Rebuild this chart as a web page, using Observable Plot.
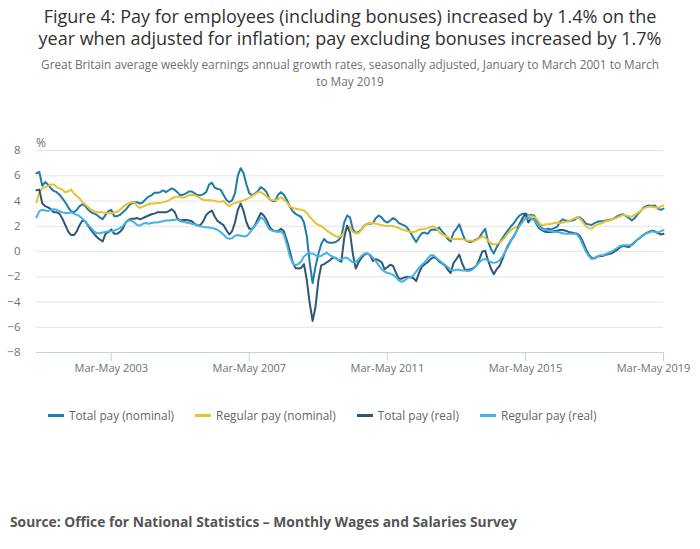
<!DOCTYPE html>
<html>
<head>
<meta charset="utf-8">
<script src="https://cdn.jsdelivr.net/npm/d3@7"></script>
<script src="https://cdn.jsdelivr.net/npm/@observablehq/plot@0.6"></script>
<style>
  html, body { margin: 0; padding: 0; background: #fff; }
  #wrap { position: relative; width: 700px; height: 549px; font-family: "Open Sans", sans-serif; overflow: hidden; }
  #title { position: absolute; top: 5px; left: 0; width: 700px; text-align: center; font-size: 18px; line-height: 22px; color: #323132; }
  .sub { position: absolute; left: 0; width: 700px; height: 16px; text-align: center; font-size: 11.8px; line-height: 16px; color: #707070; white-space: nowrap; }
  #unit { position: absolute; top: 134px; left: 36px; font-size: 12px; color: #707070; }
  #chart { position: absolute; top: 130px; left: 0; }
  #legend { position: absolute; top: 407px; left: 48px; display: flex; font-size: 11.8px; color: #666; }
  .item { display: flex; align-items: center; margin-right: 21px; }
  .sw { width: 16px; height: 3px; margin-right: 5px; }
  #source { position: absolute; top: 512px; left: 10px; font-size: 13.8px; font-weight: bold; color: #555; }
</style>
</head>
<body>
<div id="wrap">
  <div id="title"></div>
  <div id="subtitle"></div>
  <div id="unit">%</div>
  <div id="chart"></div>
  <div id="legend"></div>
  <div id="source"></div>
</div>
<script>
const titleLines = ["Figure 4: Pay for employees (including bonuses) increased by 1.4% on the",
  "year when adjusted for inflation; pay excluding bonuses increased by 1.7%"];
const subtitleLines = ["Great Britain average weekly earnings annual growth rates, seasonally adjusted, January to March 2001 to March",
  "to May 2019"];
const sourceText = "Source: Office for National Statistics \u2013 Monthly Wages and Salaries Survey";

const monthAbbr = ["Jan","Feb","Mar","Apr","May","Jun","Jul","Aug","Sep","Oct","Nov","Dec"];
const firstYear = 2001;
const seriesNames = ["Total pay (nominal)", "Regular pay (nominal)", "Total pay (real)", "Regular pay (real)"];
const seriesColors = ["#1d7cab", "#e8c22c", "#2f5878", "#43b3e1"];
const xTickLabels = ["Mar-May 2003", "Mar-May 2007", "Mar-May 2011", "Mar-May 2015", "Mar-May 2019"];
const yTicks = [-8, -6, -4, -2, 0, 2, 4, 6, 8];

const totalNominal = [
 6.2, 6.3, 5.2, 5.5, 5.3, 5.0, 4.8, 4.7, 4.5, 4.2,
 3.9, 3.5, 3.2, 3.1, 3.3, 3.6, 3.75, 3.6, 3.3, 3.1,
 3.0, 2.9, 2.7, 2.55, 2.9, 3.2, 3.3, 2.8, 2.8, 2.9,
 3.1, 3.3, 3.6, 3.8, 3.9, 3.9, 3.8, 3.9, 4.15, 4.35,
 4.45, 4.65, 4.65, 4.7, 4.85, 4.7, 4.85, 5.0, 4.9, 4.7,
 4.45, 4.5, 4.6, 4.75, 4.75, 4.6, 4.45, 4.45, 4.55, 4.7,
 5.3, 5.45, 5.05, 4.95, 4.9, 4.5, 4.1, 3.9, 4.05, 4.6,
 6.0, 6.6, 6.2, 5.3, 4.6, 4.45, 4.6, 4.8, 5.1, 4.95,
 4.7, 4.15, 4.0, 4.0, 4.5, 4.7, 4.5, 4.1, 3.6, 3.2,
 3.0, 2.85, 2.75, 2.3, 1.2, -0.9, -2.5, -1.2, -0.2, 0.6,
 1.0, 0.75, 0.7, 0.7, 0.75, 0.9, 1.2, 2.3, 2.85, 2.7,
 1.75, 1.45, 1.55, 1.75, 2.05, 2.2, 2.2, 2.25, 2.65, 2.85,
 2.7, 2.4, 2.3, 2.45, 2.65, 2.5, 2.25, 2.15, 2.05, 1.85,
 1.5, 1.1, 0.75, 1.15, 1.45, 1.5, 1.4, 1.7, 1.75, 1.7,
 1.9, 1.6, 1.35, 1.0, 0.8, 1.5, 1.8, 2.15, 1.5, 0.9,
 0.8, 0.75, 0.85, 0.95, 1.1, 1.5, 1.8, 0.8, 0.2, -0.15,
 0.35, 0.7, 1.05, 1.4, 1.7, 2.0, 2.25, 2.6, 2.85, 3.0,
 3.0, 2.85, 2.9, 2.85, 2.4, 2.0, 1.8, 1.75, 1.8, 1.75,
 1.85, 1.95, 2.35, 2.55, 2.45, 2.4, 2.45, 2.5, 2.7, 2.7,
 2.5, 2.2, 2.15, 2.1, 2.25, 2.35, 2.4, 2.4, 2.45, 2.5,
 2.55, 2.65, 2.8, 2.9, 2.95, 2.8, 2.65, 2.45, 2.65, 2.95,
 3.2, 3.45, 3.6, 3.65, 3.6, 3.65, 3.4, 3.3, 3.4];

const regularNominal = [
 3.9, 4.7, 5.0, 5.1, 5.2, 5.3, 5.3, 5.1, 5.0, 4.9,
 4.7, 4.75, 4.9, 4.6, 4.4, 4.2, 3.9, 3.7, 3.5, 3.3,
 3.2, 3.1, 3.1, 3.1, 3.05, 3.05, 3.0, 3.1, 3.15, 3.3,
 3.5, 3.7, 3.8, 3.9, 3.9, 3.6, 3.45, 3.55, 3.65, 3.75,
 3.8, 3.8, 3.85, 3.85, 3.9, 3.95, 4.05, 4.2, 4.3, 4.35,
 4.3, 4.25, 4.35, 4.45, 4.5, 4.45, 4.35, 4.2, 4.1, 4.05,
 4.05, 4.05, 4.0, 3.95, 3.95, 4.0, 3.75, 3.6, 3.75, 3.85,
 3.9, 4.0, 4.05, 4.15, 4.25, 4.4, 4.55, 4.7, 4.7, 4.55,
 4.35, 4.15, 4.05, 4.05, 4.15, 4.3, 4.1, 3.9, 3.6, 3.45,
 3.4, 3.35, 3.3, 3.25, 3.05, 2.75, 2.5, 2.25, 2.1, 2.0,
 1.85, 1.65, 1.5, 1.35, 1.2, 1.15, 1.25, 1.5, 2.0, 1.95,
 1.55, 1.45, 1.45, 1.7, 2.05, 2.2, 2.25, 2.25, 2.2, 2.15,
 2.1, 2.05, 2.0, 2.05, 2.0, 1.95, 1.85, 1.75, 1.7, 1.6,
 1.55, 1.55, 1.6, 1.75, 1.75, 1.8, 1.85, 1.95, 2.0, 1.85,
 1.55, 1.35, 1.25, 1.15, 1.0, 1.0, 1.0, 1.0, 1.0, 0.9,
 0.85, 0.85, 0.85, 0.9, 1.05, 1.2, 1.1, 0.85, 0.65, 0.55,
 0.6, 0.7, 0.9, 1.15, 1.45, 1.7, 1.85, 1.95, 2.15, 2.45,
 2.7, 2.8, 2.8, 2.75, 2.55, 2.2, 2.05, 2.15, 2.15, 2.2,
 2.25, 2.3, 2.25, 2.3, 2.35, 2.4, 2.5, 2.6, 2.7, 2.6,
 2.3, 2.0, 1.85, 1.8, 2.0, 2.15, 2.2, 2.3, 2.4, 2.45,
 2.55, 2.6, 2.7, 2.8, 2.9, 2.85, 2.8, 2.75, 2.9, 3.05,
 3.2, 3.4, 3.5, 3.55, 3.55, 3.5, 3.45, 3.55, 3.65];

const totalReal = [
 4.85, 4.9, 3.8, 3.6, 3.5, 3.35, 3.1, 3.1, 3.0, 2.6,
 2.1, 1.6, 1.3, 1.3, 1.6, 2.1, 2.45, 2.4, 2.0, 1.7,
 1.4, 1.15, 0.95, 0.8, 1.4, 1.55, 1.75, 1.4, 1.4, 1.55,
 1.8, 2.3, 2.5, 2.6, 2.6, 2.65, 2.55, 2.65, 2.75, 2.85,
 2.95, 3.0, 3.1, 3.1, 3.1, 3.1, 3.2, 3.35, 3.15, 2.6,
 2.45, 2.5, 2.5, 2.45, 2.4, 2.2, 2.05, 2.1, 2.4, 2.9,
 3.1, 3.25, 2.75, 2.4, 2.25, 2.1, 1.7, 1.35, 1.6, 2.3,
 3.3, 3.8, 3.2, 2.3, 1.8, 1.8, 2.1, 2.6, 3.05, 2.85,
 2.5, 1.95, 1.7, 1.6, 1.6, 1.8, 1.6, 0.9, 0.1, -0.8,
 -1.3, -1.35, -1.3, -1.0, -2.3, -4.1, -5.5, -4.4, -2.3, -1.1,
 -1.0, -0.85, -0.7, -0.5, -0.5, -0.7, -0.8, 1.1, 2.05, 1.5,
 -0.2, -1.35, -0.85, -0.5, -0.25, -0.15, -0.3, -0.75, -0.6, -0.7,
 -0.85, -1.4, -1.25, -1.05, -1.15, -1.7, -2.15, -2.15, -2.05, -2.0,
 -2.05, -2.1, -2.35, -1.7, -1.2, -1.0, -0.85, -0.6, -0.45, -0.55,
 -0.8, -0.95, -1.1, -1.45, -1.7, -0.9, -0.6, -0.25, -0.95, -1.45,
 -1.45, -1.4, -1.3, -1.1, -0.6, 0.0, 0.05, -0.7, -1.35, -1.8,
 -1.4, -1.15, -0.6, 0.0, 0.5, 0.9, 1.2, 1.65, 2.2, 2.65,
 3.0, 2.3, 2.6, 2.55, 2.1, 1.8, 1.65, 1.55, 1.55, 1.55,
 1.6, 1.65, 1.7, 1.7, 1.65, 1.55, 1.5, 1.45, 1.4, 1.2,
 0.75, 0.2, -0.25, -0.5, -0.55, -0.4, -0.35, -0.35, -0.25, -0.2,
 -0.15, 0.0, 0.15, 0.35, 0.45, 0.4, 0.35, 0.55, 0.75, 0.95,
 1.1, 1.3, 1.45, 1.55, 1.65, 1.6, 1.45, 1.35, 1.4];

const regularReal = [
 2.7, 3.2, 3.3, 3.25, 3.2, 3.3, 3.35, 3.3, 3.2, 3.1,
 3.05, 3.05, 3.1, 3.0, 2.9, 2.8, 2.6, 2.35, 2.1, 1.85,
 1.6, 1.45, 1.45, 1.5, 1.55, 1.6, 1.6, 1.65, 1.75, 1.85,
 2.0, 2.3, 2.45, 2.45, 2.3, 2.1, 2.05, 2.2, 2.25, 2.2,
 2.25, 2.3, 2.3, 2.35, 2.4, 2.45, 2.45, 2.5, 2.5, 2.55,
 2.4, 2.35, 2.3, 2.25, 2.2, 2.15, 2.05, 2.0, 1.95, 1.9,
 1.9, 1.85, 1.8, 1.7, 1.55, 1.35, 1.1, 1.0, 1.05, 1.25,
 1.3, 1.25, 1.2, 1.2, 1.45, 1.75, 2.05, 2.35, 2.7, 2.55,
 2.15, 1.75, 1.65, 1.6, 1.55, 1.6, 1.35, 0.6, -0.3, -0.9,
 -1.1, -1.0, -0.8, -0.4, -0.2, -0.15, -0.15, -0.3, -0.4, -0.35,
 -0.2, -0.1, -0.3, -0.4, -0.55, -0.7, -0.6, -0.5, -0.5, -0.7,
 -0.85, -0.85, -0.6, -0.35, -0.15, -0.15, -0.25, -0.5, -0.75, -1.1,
 -1.4, -1.6, -1.7, -1.75, -1.85, -2.05, -2.3, -2.4, -2.3, -2.1,
 -2.05, -1.9, -1.6, -1.3, -1.05, -0.85, -0.55, -0.3, -0.3, -0.5,
 -0.7, -0.9, -1.05, -1.25, -1.45, -1.5, -1.45, -1.45, -1.5, -1.5,
 -1.55, -1.5, -1.35, -1.1, -0.85, -0.65, -0.6, -0.7, -0.85, -0.9,
 -0.85, -0.7, -0.4, 0.0, 0.4, 0.85, 1.25, 1.65, 2.05, 2.35,
 2.6, 2.65, 2.6, 2.5, 2.2, 1.9, 1.75, 1.7, 1.65, 1.6,
 1.55, 1.55, 1.5, 1.45, 1.4, 1.4, 1.4, 1.4, 1.35, 1.0,
 0.5, 0.0, -0.35, -0.6, -0.5, -0.4, -0.3, -0.3, -0.2, -0.1,
 0.0, 0.15, 0.3, 0.45, 0.5, 0.5, 0.5, 0.5, 0.7, 0.95,
 1.15, 1.3, 1.45, 1.5, 1.6, 1.55, 1.5, 1.6, 1.7];

// period labels: index 0 = "Jan-Mar 2001"
function periodLabel(i) {
  const m0 = i % 12;
  const m2 = (i + 2) % 12, y2 = firstYear + Math.floor((i + 2) / 12);
  return monthAbbr[m0] + "-" + monthAbbr[m2] + " " + y2;
}
const periods = totalNominal.map((_, i) => periodLabel(i));
const xTickIdx = xTickLabels.map(l => periods.indexOf(l));
const lastIdx = periods.length - 1;

const allSeries = [totalNominal, regularNominal, totalReal, regularReal];
const rows = [];
allSeries.forEach((arr, s) => arr.forEach((v, i) => rows.push({i, v, series: seriesNames[s]})));

document.getElementById("title").innerHTML = titleLines.join("<br>");
const subWrap = document.getElementById("subtitle");
subtitleLines.forEach((t, k) => {
  const d = document.createElement("div"); d.className = "sub";
  d.style.top = (56 + k * 16.5) + "px"; d.textContent = t; subWrap.appendChild(d);
});
document.getElementById("source").textContent = sourceText;

const legend = document.getElementById("legend");
seriesNames.forEach((n, k) => {
  const it = document.createElement("div"); it.className = "item";
  const sw = document.createElement("div"); sw.className = "sw"; sw.style.background = seriesColors[k];
  const tx = document.createElement("span"); tx.textContent = n;
  it.appendChild(sw); it.appendChild(tx); legend.appendChild(it);
});

const chart = Plot.plot({
  width: 700,
  height: 250,
  marginTop: 20,
  marginBottom: 28,
  marginLeft: 36,
  marginRight: 37,
  style: {fontFamily: "Open Sans, sans-serif", fontSize: "11px", background: "transparent", overflow: "visible"},
  x: {domain: [0, lastIdx]},
  y: {domain: [-8, 8]},
  color: {domain: seriesNames, range: seriesColors},
  marks: [
    Plot.gridY(yTicks.filter(t => t > -8), {stroke: "#e4e4e4", strokeOpacity: 1}),
    Plot.ruleY([-8], {stroke: "#c3d3e6", strokeWidth: 1}),
    Plot.axisY({ticks: yTicks, tickSize: 0, tickPadding: 16, label: null, fill: "#707070", fontSize: 11.5}),
    Plot.axisX({ticks: xTickIdx, tickSize: 9, tickPadding: 3, stroke: "#c3d3e6", label: null, tickFormat: () => ""}),
    Plot.axisX({ticks: xTickIdx.filter(t => t !== lastIdx), tickSize: 0, tickPadding: 12, tickFormat: i => periods[i], fill: "#707070", label: null, fontSize: 11}),
    Plot.axisX({ticks: xTickIdx.filter(t => t === lastIdx), tickSize: 0, tickPadding: 12, tickFormat: i => periods[i], fill: "#707070", label: null, fontSize: 11, dx: -10}),
    Plot.lineY(rows, {x: "i", y: "v", z: "series", stroke: "series", strokeWidth: 2, curve: "linear"})
  ]
});
document.getElementById("chart").appendChild(chart);
</script>
</body>
</html>
